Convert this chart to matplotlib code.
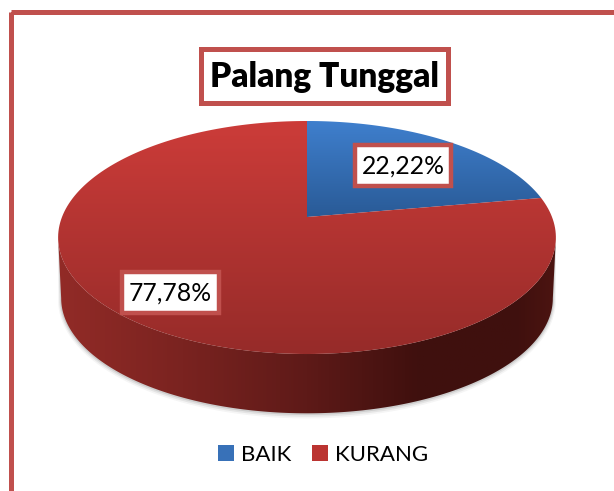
import numpy as np
import matplotlib
matplotlib.use("Agg")
import matplotlib.pyplot as plt
from matplotlib.patches import Patch, Polygon, Rectangle

categories = ["BAIK", "KURANG"]
values = [22.22, 77.78]
value_labels = ["22,22%", "77,78%"]
title = "Palang Tunggal"

BORDER = "#c0504d"
FACE_COLORS = [("#3f7fcd", "#295a96"), ("#cc3c39", "#962b29")]
FACE_SPANS = [(121, 217), (121, 354)]
LEGEND_COLORS = ["#3871b8", "#bb3431"]
WALL_STOPS = ["#922b27", "#7a2320", "#5e1a18", "#40100e", "#3f100e", "#4c1411"]

plt.rcParams["font.family"] = ["Lato", "DejaVu Sans"]

W, H = 614, 491
fig = plt.figure(figsize=(W / 100, H / 100), dpi=100)
ax = fig.add_axes([0, 0, 1, 1])
ax.set_xlim(0, W)
ax.set_ylim(H, 0)
ax.axis("off")


def project(frac, cy=217.0, ax_x=245.0, ax_y=112.9, persp=0.176):
    # circle seen in perspective, frac runs clockwise from 12 o'clock
    theta = 2 * np.pi * np.asarray(frac)
    u, v = np.sin(theta), np.cos(theta)
    w = 1 + persp * v
    return 307 + ax_x * u / w, cy - ax_y * v / w


def hex_rgb(c):
    return np.array(matplotlib.colors.to_rgb(c))


def vgrad(top, bottom, y0, y1, clip, zorder):
    t = np.linspace(0, 1, 128)[:, None, None]
    img = hex_rgb(top)[None, None, :] * (1 - t) + hex_rgb(bottom)[None, None, :] * t
    im = ax.imshow(img, extent=(0, W, y1, y0), aspect="auto", zorder=zorder)
    im.set_clip_path(clip)


# frame, runs off the right and bottom edge
ax.add_patch(Rectangle((10.5, 12), 700, 600, fill=False, ec=BORDER, lw=3.6, zorder=1))

# side wall, between the widest points of the top and bottom rims
fr = np.linspace(0.278, 0.722, 200)
tx, ty = project(fr)
bx, by = project(fr, cy=278.0, ax_x=242.0, ax_y=111.5)
wall_xy = np.r_[np.c_[tx, ty], np.c_[bx, by][::-1]]

for grow, alpha in [(3.0, 0.06), (2.0, 0.10), (1.0, 0.16)]:
    sx, sy = project(fr, cy=278.0 + grow * 0.5, ax_x=242.0 + grow, ax_y=111.5 + grow)
    ax.fill(np.r_[tx, sx[::-1]], np.r_[ty, sy[::-1]], color="#555555", alpha=alpha, lw=0, zorder=2)

wall = Polygon(wall_xy, closed=True, fc="none", ec="none", zorder=3)
ax.add_patch(wall)
stops = np.array([hex_rgb(c) for c in WALL_STOPS])
pos = np.array([0.0, 0.25, 0.5, 0.72, 0.92, 1.0])
grid = np.linspace(0, 1, 256)
img = np.stack([np.interp(grid, pos, stops[:, i]) for i in range(3)], axis=1)[None, :, :]
im = ax.imshow(img, extent=(58, 556, 420, 230), aspect="auto", zorder=3)
im.set_clip_path(wall)

# top face wedges
edges = np.r_[0, np.cumsum(values)] / np.sum(values)
for i, name in enumerate(categories):
    f = np.linspace(edges[i], edges[i + 1], 200)
    x, y = project(f)
    cx, cy = project(0.0)[0], 217.0
    poly = Polygon(np.c_[np.r_[cx, x], np.r_[cy, y]], closed=True, fc="none", ec="none", zorder=4)
    ax.add_patch(poly)
    vgrad(FACE_COLORS[i][0], FACE_COLORS[i][1], FACE_SPANS[i][0], FACE_SPANS[i][1] + 1, poly, 4)

# value labels
for (x0, y0, x1, y1), label in zip([(355, 145, 451, 186), (122, 272, 219, 313)], value_labels):
    ax.add_patch(Rectangle((x0, y0), x1 - x0, y1 - y0, fc="white", ec=BORDER, lw=3.2, zorder=5))
    ax.text((x0 + x1) / 2, (y0 + y1) / 2 + 0.5, label, ha="center", va="center",
            fontsize=17.8, color="black", zorder=6)

# title
ax.add_patch(Rectangle((201, 49), 247, 54, fc="white", ec=BORDER, lw=3.6, zorder=5))
ax.text(324.5, 77, title, ha="center", va="center", fontsize=24, fontweight="heavy",
        color="black", zorder=6)

# legend
handles = [Patch(fc=LEGEND_COLORS[i], ec="none") for i in range(2)]
leg = ax.legend(handles, categories, loc="center", bbox_to_anchor=(323, 455),
                bbox_transform=ax.transData, ncol=2, frameon=False, fontsize=16,
                handlelength=0.72, handleheight=0.72, handletextpad=0.32,
                columnspacing=0.95, borderpad=0, labelspacing=0, borderaxespad=0)

ax.set_xlim(0, W)
ax.set_ylim(H, 0)
fig.savefig("out.png", dpi=100)
